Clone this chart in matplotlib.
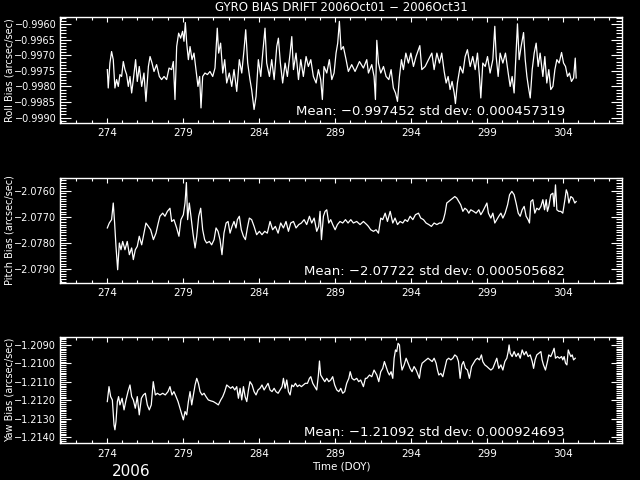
import numpy as np
import matplotlib.pyplot as plt
from matplotlib.ticker import MultipleLocator, FuncFormatter

# ---- data (day of year, bias in arcsec/sec) ----
roll_t = [274.03, 274.09, 274.20, 274.31, 274.42, 274.53, 274.64, 274.75, 274.86, 274.97,
          275.08, 275.19, 275.30, 275.41, 275.52, 275.63, 275.74, 275.89, 276.00, 276.13,
          276.29, 276.44, 276.57, 276.73, 276.84, 276.97, 277.10, 277.27, 277.45, 277.60,
          277.76, 277.93, 278.09, 278.26, 278.37, 278.48, 278.59, 278.72, 278.85, 278.98,
          279.07, 279.16, 279.25, 279.36, 279.47, 279.60, 279.73, 279.86, 279.99, 280.10,
          280.19, 280.30, 280.45, 280.61, 280.78, 280.96, 281.11, 281.26, 281.35, 281.48,
          281.62, 281.75, 281.88, 282.05, 282.21, 282.36, 282.54, 282.71, 282.87, 283.02,
          283.13, 283.26, 283.41, 283.52, 283.68, 283.81, 283.96, 284.12, 284.25, 284.40,
          284.51, 284.69, 284.84, 285.00, 285.17, 285.28, 285.41, 285.56, 285.72, 285.87,
          286.05, 286.16, 286.27, 286.44, 286.60, 286.75, 286.92, 287.10, 287.25, 287.41,
          287.58, 287.76, 287.91, 288.06, 288.17, 288.28, 288.46, 288.63, 288.79, 288.94,
          289.07, 289.18, 289.29, 289.40, 289.55, 289.73, 289.88, 290.10, 290.32, 290.61,
          290.87, 291.09, 291.20, 291.42, 291.57, 291.66, 291.75, 291.86, 292.01, 292.19,
          292.36, 292.54, 292.69, 292.84, 292.98, 293.11, 293.24, 293.37, 293.50, 293.66,
          293.83, 293.99, 294.16, 294.33, 294.49, 294.58, 294.71, 294.93, 295.15, 295.37,
          295.52, 295.70, 295.87, 296.02, 296.18, 296.31, 296.44, 296.57, 296.70, 296.84,
          296.92, 297.05, 297.23, 297.41, 297.56, 297.71, 297.89, 298.06, 298.22, 298.37,
          298.50, 298.59, 298.72, 298.88, 299.03, 299.20, 299.38, 299.51, 299.60, 299.73,
          299.86, 300.04, 300.21, 300.39, 300.52, 300.65, 300.78, 300.91, 301.00, 301.11,
          301.24, 301.40, 301.51, 301.62, 301.73, 301.84, 301.97, 302.10, 302.23, 302.36,
          302.49, 302.67, 302.80, 302.93, 303.06, 303.19, 303.33, 303.46, 303.59, 303.74,
          303.90, 304.03, 304.16, 304.29, 304.42, 304.55, 304.69, 304.80, 304.86]
roll_v = [-0.99746, -0.99805, -0.99725, -0.99688, -0.99714, -0.99805, -0.99778, -0.99800, -0.99762, -0.99768,
          -0.99720, -0.99746, -0.99762, -0.99800, -0.99768, -0.99821, -0.99778, -0.99714, -0.99784, -0.99736,
          -0.99800, -0.99757, -0.99848, -0.99736, -0.99704, -0.99725, -0.99752, -0.99730, -0.99768, -0.99778,
          -0.99768, -0.99778, -0.99741, -0.99746, -0.99720, -0.99842, -0.99672, -0.99629, -0.99645, -0.99623,
          -0.99655, -0.99595, -0.99661, -0.99714, -0.99672, -0.99714, -0.99693, -0.99746, -0.99800, -0.99768,
          -0.99869, -0.99768, -0.99757, -0.99762, -0.99752, -0.99768, -0.99741, -0.99613, -0.99693, -0.99661,
          -0.99757, -0.99714, -0.99789, -0.99757, -0.99800, -0.99746, -0.99816, -0.99714, -0.99757, -0.99682,
          -0.99618, -0.99725, -0.99778, -0.99810, -0.99874, -0.99832, -0.99714, -0.99768, -0.99693, -0.99613,
          -0.99725, -0.99768, -0.99714, -0.99778, -0.99672, -0.99645, -0.99725, -0.99789, -0.99725, -0.99768,
          -0.99693, -0.99640, -0.99746, -0.99693, -0.99778, -0.99714, -0.99768, -0.99704, -0.99736, -0.99714,
          -0.99768, -0.99789, -0.99746, -0.99778, -0.99842, -0.99736, -0.99757, -0.99714, -0.99778, -0.99757,
          -0.99693, -0.99661, -0.99591, -0.99682, -0.99672, -0.99714, -0.99752, -0.99730, -0.99752, -0.99720,
          -0.99741, -0.99714, -0.99757, -0.99730, -0.99768, -0.99842, -0.99652, -0.99725, -0.99757, -0.99736,
          -0.99768, -0.99778, -0.99746, -0.99805, -0.99821, -0.99848, -0.99768, -0.99714, -0.99746, -0.99693,
          -0.99725, -0.99693, -0.99736, -0.99704, -0.99682, -0.99669, -0.99746, -0.99736, -0.99714, -0.99693,
          -0.99746, -0.99693, -0.99725, -0.99693, -0.99752, -0.99789, -0.99768, -0.99810, -0.99784, -0.99821,
          -0.99855, -0.99789, -0.99736, -0.99757, -0.99704, -0.99682, -0.99736, -0.99704, -0.99746, -0.99693,
          -0.99768, -0.99837, -0.99725, -0.99736, -0.99704, -0.99757, -0.99714, -0.99607, -0.99704, -0.99768,
          -0.99693, -0.99725, -0.99693, -0.99757, -0.99800, -0.99768, -0.99821, -0.99693, -0.99599, -0.99714,
          -0.99672, -0.99627, -0.99714, -0.99768, -0.99805, -0.99837, -0.99746, -0.99693, -0.99661, -0.99736,
          -0.99693, -0.99768, -0.99704, -0.99789, -0.99746, -0.99810, -0.99800, -0.99746, -0.99714, -0.99725,
          -0.99691, -0.99725, -0.99736, -0.99768, -0.99757, -0.99784, -0.99773, -0.99709, -0.99773]

pitch_t = [274.03, 274.16, 274.31, 274.42, 274.51, 274.60, 274.71, 274.82, 274.93, 275.04,
           275.19, 275.34, 275.48, 275.63, 275.74, 275.87, 276.00, 276.13, 276.29, 276.44,
           276.57, 276.73, 276.88, 277.06, 277.23, 277.38, 277.49, 277.67, 277.82, 277.98,
           278.15, 278.26, 278.41, 278.59, 278.74, 278.87, 279.03, 279.14, 279.23, 279.31,
           279.42, 279.53, 279.66, 279.80, 279.91, 280.04, 280.17, 280.30, 280.43, 280.56,
           280.74, 280.89, 281.05, 281.18, 281.31, 281.44, 281.57, 281.70, 281.84, 281.97,
           282.10, 282.23, 282.36, 282.49, 282.58, 282.71, 282.84, 282.98, 283.11, 283.24,
           283.37, 283.52, 283.68, 283.85, 284.03, 284.20, 284.38, 284.55, 284.73, 284.90,
           285.08, 285.26, 285.43, 285.61, 285.78, 285.94, 286.09, 286.27, 286.44, 286.62,
           286.79, 286.97, 287.14, 287.32, 287.47, 287.63, 287.80, 287.93, 288.02, 288.11,
           288.24, 288.35, 288.46, 288.59, 288.72, 288.85, 289.01, 289.16, 289.33, 289.51,
           289.69, 289.86, 290.04, 290.21, 290.43, 290.65, 290.87, 291.09, 291.20, 291.35,
           291.53, 291.70, 291.86, 292.01, 292.14, 292.30, 292.45, 292.63, 292.80, 292.95,
           293.11, 293.28, 293.46, 293.61, 293.77, 293.94, 294.12, 294.29, 294.49, 294.64,
           294.82, 294.99, 295.17, 295.34, 295.52, 295.70, 295.87, 296.02, 296.13, 296.24,
           296.35, 296.48, 296.62, 296.75, 296.88, 297.01, 297.14, 297.27, 297.41, 297.54,
           297.67, 297.80, 297.93, 298.11, 298.28, 298.46, 298.59, 298.72, 298.88, 298.99,
           299.09, 299.25, 299.38, 299.51, 299.64, 299.77, 299.91, 300.04, 300.19, 300.35,
           300.48, 300.63, 300.78, 300.91, 301.05, 301.18, 301.31, 301.44, 301.57, 301.70,
           301.79, 301.88, 302.01, 302.14, 302.27, 302.41, 302.54, 302.67, 302.78, 302.89,
           302.97, 303.06, 303.19, 303.33, 303.41, 303.50, 303.59, 303.72, 303.85, 303.98,
           304.12, 304.21, 304.29, 304.38, 304.51, 304.64, 304.77, 304.86]
pitch_v = [-2.07743, -2.07724, -2.07711, -2.07647, -2.07724, -2.07814, -2.07904, -2.07801, -2.07827, -2.07795,
           -2.07827, -2.07795, -2.07846, -2.07820, -2.07865, -2.07827, -2.07814, -2.07775, -2.07808, -2.07763,
           -2.07724, -2.07737, -2.07750, -2.07788, -2.07763, -2.07724, -2.07698, -2.07686, -2.07698, -2.07679,
           -2.07667, -2.07718, -2.07711, -2.07743, -2.07775, -2.07711, -2.07692, -2.07647, -2.07568, -2.07711,
           -2.07647, -2.07698, -2.07763, -2.07820, -2.07775, -2.07698, -2.07667, -2.07750, -2.07788, -2.07801,
           -2.07795, -2.07808, -2.07788, -2.07743, -2.07756, -2.07788, -2.07846, -2.07763, -2.07724, -2.07718,
           -2.07763, -2.07737, -2.07718, -2.07743, -2.07711, -2.07698, -2.07750, -2.07775, -2.07788, -2.07743,
           -2.07705, -2.07711, -2.07737, -2.07769, -2.07756, -2.07769, -2.07756, -2.07763, -2.07718, -2.07750,
           -2.07737, -2.07763, -2.07724, -2.07743, -2.07718, -2.07756, -2.07724, -2.07718, -2.07743, -2.07730,
           -2.07724, -2.07711, -2.07730, -2.07698, -2.07724, -2.07705, -2.07756, -2.07737, -2.07679, -2.07788,
           -2.07698, -2.07679, -2.07673, -2.07724, -2.07711, -2.07730, -2.07750, -2.07730, -2.07718, -2.07724,
           -2.07711, -2.07724, -2.07711, -2.07724, -2.07718, -2.07730, -2.07718, -2.07730, -2.07737, -2.07750,
           -2.07756, -2.07750, -2.07763, -2.07705, -2.07711, -2.07686, -2.07718, -2.07679, -2.07724, -2.07705,
           -2.07730, -2.07718, -2.07724, -2.07711, -2.07718, -2.07698, -2.07711, -2.07692, -2.07686, -2.07705,
           -2.07711, -2.07724, -2.07730, -2.07737, -2.07724, -2.07730, -2.07724, -2.07724, -2.07711, -2.07686,
           -2.07647, -2.07641, -2.07634, -2.07628, -2.07622, -2.07628, -2.07641, -2.07654, -2.07679, -2.07667,
           -2.07673, -2.07686, -2.07673, -2.07679, -2.07686, -2.07673, -2.07692, -2.07679, -2.07660, -2.07647,
           -2.07686, -2.07705, -2.07686, -2.07724, -2.07711, -2.07698, -2.07686, -2.07705, -2.07686, -2.07654,
           -2.07615, -2.07602, -2.07615, -2.07647, -2.07686, -2.07698, -2.07673, -2.07660, -2.07698, -2.07711,
           -2.07724, -2.07641, -2.07634, -2.07686, -2.07667, -2.07673, -2.07660, -2.07634, -2.07673, -2.07634,
           -2.07679, -2.07660, -2.07615, -2.07609, -2.07660, -2.07577, -2.07673, -2.07679, -2.07679, -2.07686,
           -2.07634, -2.07596, -2.07609, -2.07647, -2.07622, -2.07628, -2.07647, -2.07641]

yaw_t = [274.03, 274.14, 274.25, 274.36, 274.47, 274.53, 274.60, 274.69, 274.77, 274.86,
         275.00, 275.13, 275.26, 275.39, 275.52, 275.63, 275.74, 275.87, 276.00, 276.13,
         276.27, 276.40, 276.53, 276.66, 276.79, 276.92, 277.05, 277.19, 277.32, 277.49,
         277.67, 277.84, 278.02, 278.15, 278.28, 278.41, 278.55, 278.68, 278.81, 278.94,
         279.03, 279.14, 279.25, 279.36, 279.47, 279.58, 279.69, 279.80, 279.91, 280.02,
         280.13, 280.26, 280.39, 280.52, 280.67, 280.83, 281.00, 281.18, 281.33, 281.49,
         281.62, 281.75, 281.88, 282.01, 282.14, 282.27, 282.41, 282.54, 282.65, 282.76,
         282.87, 282.98, 283.09, 283.20, 283.31, 283.41, 283.55, 283.68, 283.81, 283.94,
         284.07, 284.20, 284.34, 284.47, 284.60, 284.73, 284.86, 285.00, 285.12, 285.26,
         285.39, 285.52, 285.61, 285.72, 285.83, 285.94, 286.05, 286.16, 286.27, 286.40,
         286.53, 286.66, 286.79, 286.92, 287.05, 287.19, 287.32, 287.41, 287.54, 287.67,
         287.80, 287.91, 287.98, 288.06, 288.19, 288.33, 288.46, 288.59, 288.72, 288.85,
         288.98, 289.12, 289.25, 289.38, 289.51, 289.64, 289.77, 289.91, 290.00, 290.12,
         290.26, 290.43, 290.56, 290.69, 290.87, 291.00, 291.09, 291.27, 291.42, 291.57,
         291.75, 291.88, 292.01, 292.14, 292.25, 292.36, 292.47, 292.58, 292.69, 292.80,
         292.89, 292.98, 293.06, 293.15, 293.24, 293.33, 293.41, 293.55, 293.68, 293.81,
         293.94, 294.07, 294.20, 294.34, 294.47, 294.55, 294.64, 294.73, 294.86, 294.99,
         295.12, 295.26, 295.39, 295.52, 295.65, 295.74, 295.83, 295.96, 296.09, 296.22,
         296.35, 296.48, 296.62, 296.75, 296.88, 297.01, 297.12, 297.23, 297.34, 297.45,
         297.58, 297.71, 297.84, 297.98, 298.11, 298.24, 298.37, 298.50, 298.63, 298.72,
         298.85, 298.99, 299.12, 299.25, 299.38, 299.51, 299.64, 299.77, 299.91, 300.04,
         300.17, 300.30, 300.39, 300.45, 300.52, 300.65, 300.78, 300.91, 301.05, 301.18,
         301.31, 301.44, 301.57, 301.70, 301.84, 301.97, 302.06, 302.16, 302.27, 302.41,
         302.54, 302.62, 302.71, 302.84, 302.97, 303.06, 303.19, 303.33, 303.41, 303.50,
         303.63, 303.76, 303.90, 303.98, 304.07, 304.16, 304.25, 304.34, 304.42, 304.51,
         304.60, 304.69, 304.80]
yaw_v = [-1.21207, -1.21126, -1.21180, -1.21198, -1.21333, -1.21360, -1.21315, -1.21207, -1.21180, -1.21225,
         -1.21189, -1.21252, -1.21198, -1.21153, -1.21117, -1.21180, -1.21198, -1.21243, -1.21180, -1.21279,
         -1.21189, -1.21171, -1.21162, -1.21225, -1.21252, -1.21225, -1.21099, -1.21171, -1.21162, -1.21171,
         -1.21162, -1.21171, -1.21153, -1.21126, -1.21171, -1.21153, -1.21180, -1.21207, -1.21243, -1.21279,
         -1.21306, -1.21261, -1.21279, -1.21207, -1.21153, -1.21225, -1.21171, -1.21117, -1.21081, -1.21108,
         -1.21153, -1.21171, -1.21162, -1.21180, -1.21198, -1.21203, -1.21207, -1.21216, -1.21225, -1.21198,
         -1.21180, -1.21153, -1.21117, -1.21126, -1.21135, -1.21126, -1.21144, -1.21126, -1.21189, -1.21135,
         -1.21198, -1.21126, -1.21180, -1.21207, -1.21144, -1.21099, -1.21117, -1.21153, -1.21171, -1.21144,
         -1.21135, -1.21117, -1.21144, -1.21126, -1.21108, -1.21144, -1.21153, -1.21135, -1.21153, -1.21162,
         -1.21144, -1.21126, -1.21081, -1.21135, -1.21090, -1.21153, -1.21171, -1.21117, -1.21126, -1.21108,
         -1.21126, -1.21117, -1.21126, -1.21117, -1.21108, -1.21108, -1.21081, -1.21072, -1.21108, -1.21126,
         -1.21144, -1.21063, -1.20987, -1.21063, -1.21081, -1.21099, -1.21081, -1.21099, -1.21090, -1.21072,
         -1.21117, -1.21144, -1.21153, -1.21135, -1.21162, -1.21153, -1.21108, -1.21081, -1.21045, -1.21081,
         -1.21090, -1.21081, -1.21099, -1.21090, -1.21126, -1.21081, -1.21081, -1.21063, -1.21072, -1.21036,
         -1.21063, -1.21099, -1.21045, -1.21027, -1.20990, -1.21017, -1.21045, -1.21063, -1.21045, -1.21081,
         -1.20972, -1.20927, -1.20936, -1.20891, -1.20900, -1.20990, -1.21036, -1.21008, -1.20972, -1.20999,
         -1.21027, -1.21045, -1.21017, -1.21036, -1.21063, -1.21081, -1.21027, -1.20999, -1.20990, -1.20981,
         -1.20972, -1.20981, -1.20990, -1.20972, -1.20999, -1.21036, -1.21063, -1.21054, -1.21072, -1.21027,
         -1.20981, -1.20972, -1.20981, -1.20972, -1.20954, -1.20963, -1.20990, -1.21081, -1.21008, -1.20990,
         -1.21027, -1.21036, -1.21081, -1.21017, -1.20999, -1.20981, -1.20972, -1.20981, -1.20954, -1.20990,
         -1.21008, -1.21017, -1.21027, -1.21036, -1.21027, -1.20999, -1.20972, -1.21027, -1.21008, -1.21036,
         -1.20990, -1.20972, -1.20936, -1.20900, -1.20945, -1.20963, -1.20936, -1.20963, -1.20945, -1.20972,
         -1.20927, -1.20954, -1.20936, -1.20963, -1.20954, -1.20990, -1.21027, -1.20981, -1.20954, -1.20945,
         -1.20936, -1.20981, -1.21008, -1.21036, -1.20990, -1.20954, -1.20963, -1.20936, -1.20918, -1.20972,
         -1.20963, -1.20972, -1.20963, -1.20981, -1.20963, -1.20999, -1.21008, -1.20927, -1.20945, -1.20963,
         -1.20954, -1.20981, -1.20972]

panels = [
    # (times, values, ylabel, ylim, major, minor, mean, std)
    (roll_t, roll_v, 'Roll Bias (arcsec/sec)', (-0.99917, -0.99578), 0.0005, 0.0001,
     '-0.997452', '0.000457319'),
    (pitch_t, pitch_v, 'Pitch Bias (arcsec/sec)', (-2.07954, -2.07549), 0.001, 0.0001,
     '-2.07722', '0.000505682'),
    (yaw_t, yaw_v, 'Yaw Bias (arcsec/sec)', (-1.21433, -1.20858), 0.001, 0.0001,
     '-1.21092', '0.000924693'),
]

xlim = (270.95, 307.9)
xticks = [274, 279, 284, 289, 294, 299, 304]

MINUS = '\u2212'

plt.rcParams['font.family'] = ['DejaVu Sans']
fig = plt.figure(figsize=(6.4, 4.8), dpi=100, facecolor='black')

# axes boxes in figure fraction (left, bottom, width, height)
boxes = [(0.0945, 0.744, 0.878, 0.220),
         (0.0945, 0.411, 0.878, 0.219),
         (0.0945, 0.0765, 0.878, 0.221)]

ylab_fmt = FuncFormatter(lambda v, pos: f'{v:.4f}'.replace('-', MINUS))

for (t, v, ylab, ylim, major, minor, mean, std), box in zip(panels, boxes):
    ax = fig.add_axes(box, facecolor='black')
    ax.plot(t, v, color='white', lw=0.9)
    ax.set_xlim(xlim)
    ax.set_ylim(ylim)
    ax.set_xticks(xticks)
    ax.xaxis.set_minor_locator(MultipleLocator(1))
    ax.yaxis.set_major_locator(MultipleLocator(major))
    ax.yaxis.set_minor_locator(MultipleLocator(minor))
    ax.yaxis.set_major_formatter(ylab_fmt)
    for s in ax.spines.values():
        s.set_color('white')
        s.set_linewidth(1.0)
    ax.tick_params(axis='both', which='both', direction='in', colors='white',
                   top=True, right=True, labelsize=7, width=0.8)
    ax.tick_params(axis='x', labelsize=7.5)
    ax.tick_params(axis='y', which='major', length=8, pad=3)
    ax.tick_params(axis='y', which='minor', length=4)
    ax.tick_params(axis='x', which='major', length=3.5, pad=4)
    ax.tick_params(axis='x', which='minor', length=2)
    ax.set_ylabel(ylab, color='white', fontsize=7)
    ax.yaxis.set_label_coords(-0.081, 0.5)
    ax.text(0.898, 0.105, f'Mean: {mean.replace("-", MINUS)} std dev: {std}',
            transform=ax.transAxes, ha='right', va='center', color='white', fontsize=9.5)

fig.text(0.533, 0.985, 'GYRO BIAS DRIFT 2006Oct01 ' + MINUS + ' 2006Oct31', ha='center',
         va='center', color='white', fontsize=8.5)
fig.text(0.533, 0.029, 'Time (DOY)', ha='center', va='center', color='white', fontsize=7.5)
fig.text(0.175, 0.018, '2006', ha='left', va='center', color='white', fontsize=11)

fig.savefig('out.png', dpi=100, facecolor='black')
